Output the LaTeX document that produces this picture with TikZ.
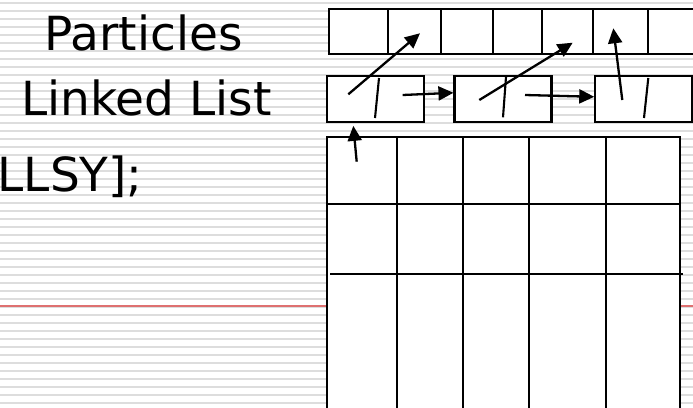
\documentclass[tikz,border=0pt]{standalone}
\usepackage{fontspec}
\setmainfont{DejaVu Sans}
\usepackage{xcolor}
\usepackage{tikz}
\usetikzlibrary{arrows.meta}
\definecolor{ruleline}{RGB}{221,221,221}
\definecolor{marginred}{RGB}{222,112,112}

\begin{document}
\begin{tikzpicture}[x=1pt,y=-1pt,
  box/.style={draw=black,fill=white,line width=2.1pt},
  bar/.style={black,line width=2.1pt},
  listcell/.style={box,minimum width=97pt,minimum height=46pt,inner sep=0pt},
  ptr/.style={black,line width=2.3pt,-{Triangle[length=15pt,width=14pt]}},
  slidetext/.style={inner sep=0pt,anchor=base,font=\fontsize{47}{56}\selectfont}]
\useasboundingbox (0,0) rectangle (693,407);
\clip (0,0) rectangle (693,407);
\fill[white] (0,0) rectangle (693,407);
\foreach \k in {0,...,50}
  \fill[ruleline] (0,1.7+8*\k) rectangle (693,3.7+8*\k);
\fill[marginred] (0,305) rectangle (693,307.2);

\node[slidetext] (parts) at (143.5,50) {Particles};
\node[slidetext] (llist) at (146.5,115) {Linked List};
\node[slidetext,anchor=base east] (decl) at (143,191.7) {LLSY];};

\draw[box] (329.3,9.3) rectangle (700,54.3);
\foreach \x in {388.3,440.7,493.3,541.7,593.3,648.3}
  \draw[bar] (\x,9.3) -- (\x,54.3);

\draw[box] (326.7,137.3) rectangle (680,415);
\foreach \x in {396.7,462.7,529,605.7}
  \draw[bar] (\x,137.3) -- (\x,415);
\draw[bar] (326.7,204) -- (680,204);
\draw[bar] (330,274.3) -- (683.3,274.3);

\node[listcell] (n1) at (375.3,98.8) {};
\node[listcell] (n2) at (503,98.8) {};
\node[listcell] (n3) at (643.8,98.8) {};
\draw[bar] (379,78) -- (375,118);
\draw[bar] (506,77) -- (503,117.3);
\draw[bar] (648.3,78) -- (644,118);

\coordinate (t1) at (420,33.3);
\coordinate (t2) at (572.7,42.7);
\coordinate (t3) at (613.3,28.3);
\coordinate (h1) at (348.3,94.3);
\coordinate (h2) at (479.3,100);
\coordinate (h3) at (622.3,100);
\coordinate (nx1) at (402.7,95);
\coordinate (nx2) at (525,95);
\coordinate (head) at (356.7,161.7);
\draw[ptr] (h1) -- (t1);
\draw[ptr] (h2) -- (t2);
\draw[ptr] (h3) -- (t3);
\draw[ptr] (nx1) -- ([yshift=6pt]n2.west);
\draw[ptr] (nx2) -- ([yshift=2pt]n3.west);
\draw[ptr] (head) -- ([xshift=-22pt,yshift=-3pt]n1.south);
\end{tikzpicture}
\end{document}
